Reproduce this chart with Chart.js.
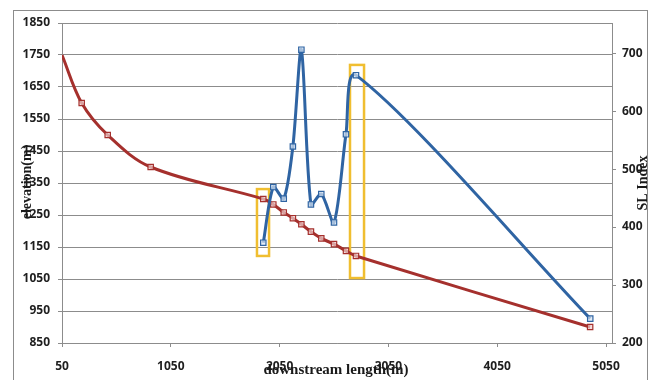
<!DOCTYPE html>
<html><head><meta charset="utf-8">
<script src="https://cdn.jsdelivr.net/npm/chart.js@4/dist/chart.umd.min.js"></script>
<style>html,body{margin:0;padding:0;background:#fff}#wrap{width:654px;height:380px;position:relative}</style>
</head><body><div id="wrap"><canvas id="c" width="654" height="380"></canvas></div>
<script>
// ---- data ----
const distance   = [50, 231, 470, 865, 1900, 1992, 2088, 2172, 2250, 2338, 2433, 2550, 2660, 2752, 4904];
const elevation  = [1750, 1600, 1500, 1400, 1300, 1283, 1258, 1240, 1221, 1198, 1177, 1159, 1138, 1122, 900];
const slDistance = [1900, 1992, 2088, 2172, 2250, 2338, 2433, 2550, 2660, 2752, 4905];
const slIndex    = [373, 469, 449, 539, 706, 439, 457, 408, 560, 662, 242];
const xTicks     = [50, 1050, 2050, 3050, 4050, 5050];
const elevTicks  = [850, 950, 1050, 1150, 1250, 1350, 1450, 1550, 1650, 1750, 1850];
const slTicks    = [200, 300, 400, 500, 600, 700];
const boxXFrom   = [1842, 2697];
const boxXTo     = [1953, 2826];
const boxElevLow = [1122, 1053];
const boxElevHigh= [1331, 1719];
const xTitle = 'downstream length(m)';
const yTitle = 'elevation(m)';
const y1Title = 'SL Index';

const tickFont = {family: '"Open Sans"', size: 12, weight: 'bold'};
const tickColor = '#1e1e1e';
const gridColor = '#8c8c8c';
const plain = v => String(v);

const decor = {
  id: 'decor',
  beforeDraw(chart) {
    const ctx = chart.ctx;
    ctx.save();
    ctx.strokeStyle = '#8c8c8c';
    ctx.lineWidth = 1;
    ctx.strokeRect(13.5, 10.5, 634, 380);
    ctx.restore();
  },
  beforeDatasetsDraw(chart) {
    const ctx = chart.ctx, sx = chart.scales.x, sy = chart.scales.y;
    ctx.save();
    ctx.strokeStyle = '#F0BE30';
    ctx.lineWidth = 2.5;
    for (let i = 0; i < boxXFrom.length; i++) {
      const x0 = sx.getPixelForValue(boxXFrom[i]), x1 = sx.getPixelForValue(boxXTo[i]);
      const y0 = sy.getPixelForValue(boxElevHigh[i]), y1 = sy.getPixelForValue(boxElevLow[i]);
      ctx.strokeRect(x0, y0, x1 - x0, y1 - y0);
    }
    ctx.restore();
  },
  afterDraw(chart) {
    const ctx = chart.ctx;
    ctx.save();
    ctx.fillStyle = '#1a1a1a';
    ctx.textAlign = 'center';
    ctx.textBaseline = 'middle';
    ctx.font = 'bold 14px "Liberation Serif"';
    ctx.save(); ctx.translate(27, 182); ctx.rotate(-Math.PI / 2); ctx.fillText(yTitle, 0, 0); ctx.restore();
    ctx.save(); ctx.translate(643, 183); ctx.rotate(-Math.PI / 2); ctx.fillText(y1Title, 0, 0); ctx.restore();
    ctx.font = 'bold 15px "Liberation Serif"';
    ctx.fillText(xTitle, 336, 370);
    ctx.restore();
  }
};

new Chart(document.getElementById('c'), {
  type: 'line',
  data: {
    datasets: [
      {
        label: 'SL Index',
        data: slDistance.map((x, i) => ({x, y: slIndex[i]})),
        yAxisID: 'y1',
        borderColor: '#2F64A3',
        borderWidth: 3,
        tension: 0.28,
        pointStyle: 'rect',
        pointRadius: 3.8,
        pointBorderWidth: 1.2,
        pointBorderColor: '#2F64A3',
        pointBackgroundColor: 'rgba(215,228,242,0.7)'
      },
      {
        label: 'elevation',
        data: distance.map((x, i) => ({x, y: elevation[i]})),
        yAxisID: 'y',
        borderColor: '#A5302D',
        borderWidth: 3,
        tension: 0.35,
        pointStyle: 'rect',
        pointRadius: c => c.dataIndex === 0 ? 0 : 3.8,
        pointBorderWidth: 1.2,
        pointBorderColor: '#A5302D',
        pointBackgroundColor: 'rgba(240,210,210,0.7)'
      }
    ]
  },
  options: {
    responsive: false,
    animation: false,
    devicePixelRatio: 1,
    layout: {padding: {top: 23, left: 0, right: 0, bottom: 0}},
    plugins: {legend: {display: false}, tooltip: {enabled: false}},
    scales: {
      x: {
        type: 'linear', position: 'bottom', min: 50, max: 5105,
        afterBuildTicks: s => { s.ticks = xTicks.map(v => ({value: v})); },
        afterFit: s => { s.height = 37; },
        grid: {drawOnChartArea: false, drawTicks: true, tickLength: 4, color: gridColor},
        border: {color: gridColor, width: 1},
        ticks: {font: tickFont, color: tickColor, padding: 12, maxRotation: 0, autoSkip: false, callback: plain}
      },
      y: {
        type: 'linear', position: 'left', min: 850, max: 1850,
        afterBuildTicks: s => { s.ticks = elevTicks.map(v => ({value: v})); },
        afterFit: s => { s.width = 62; },
        grid: {color: gridColor, lineWidth: 1, tickLength: 4},
        border: {color: gridColor, width: 1},
        ticks: {font: tickFont, color: tickColor, padding: 8, callback: plain}
      },
      y1: {
        type: 'linear', position: 'right', min: 200, max: 752,
        afterBuildTicks: s => { s.ticks = slTicks.map(v => ({value: v})); },
        afterFit: s => { s.width = 42; },
        grid: {drawOnChartArea: false, drawTicks: true, tickLength: 4, color: gridColor},
        border: {color: gridColor, width: 1},
        ticks: {font: tickFont, color: tickColor, padding: 6, callback: plain}
      }
    }
  },
  plugins: [decor]
});
</script>
</body></html>
